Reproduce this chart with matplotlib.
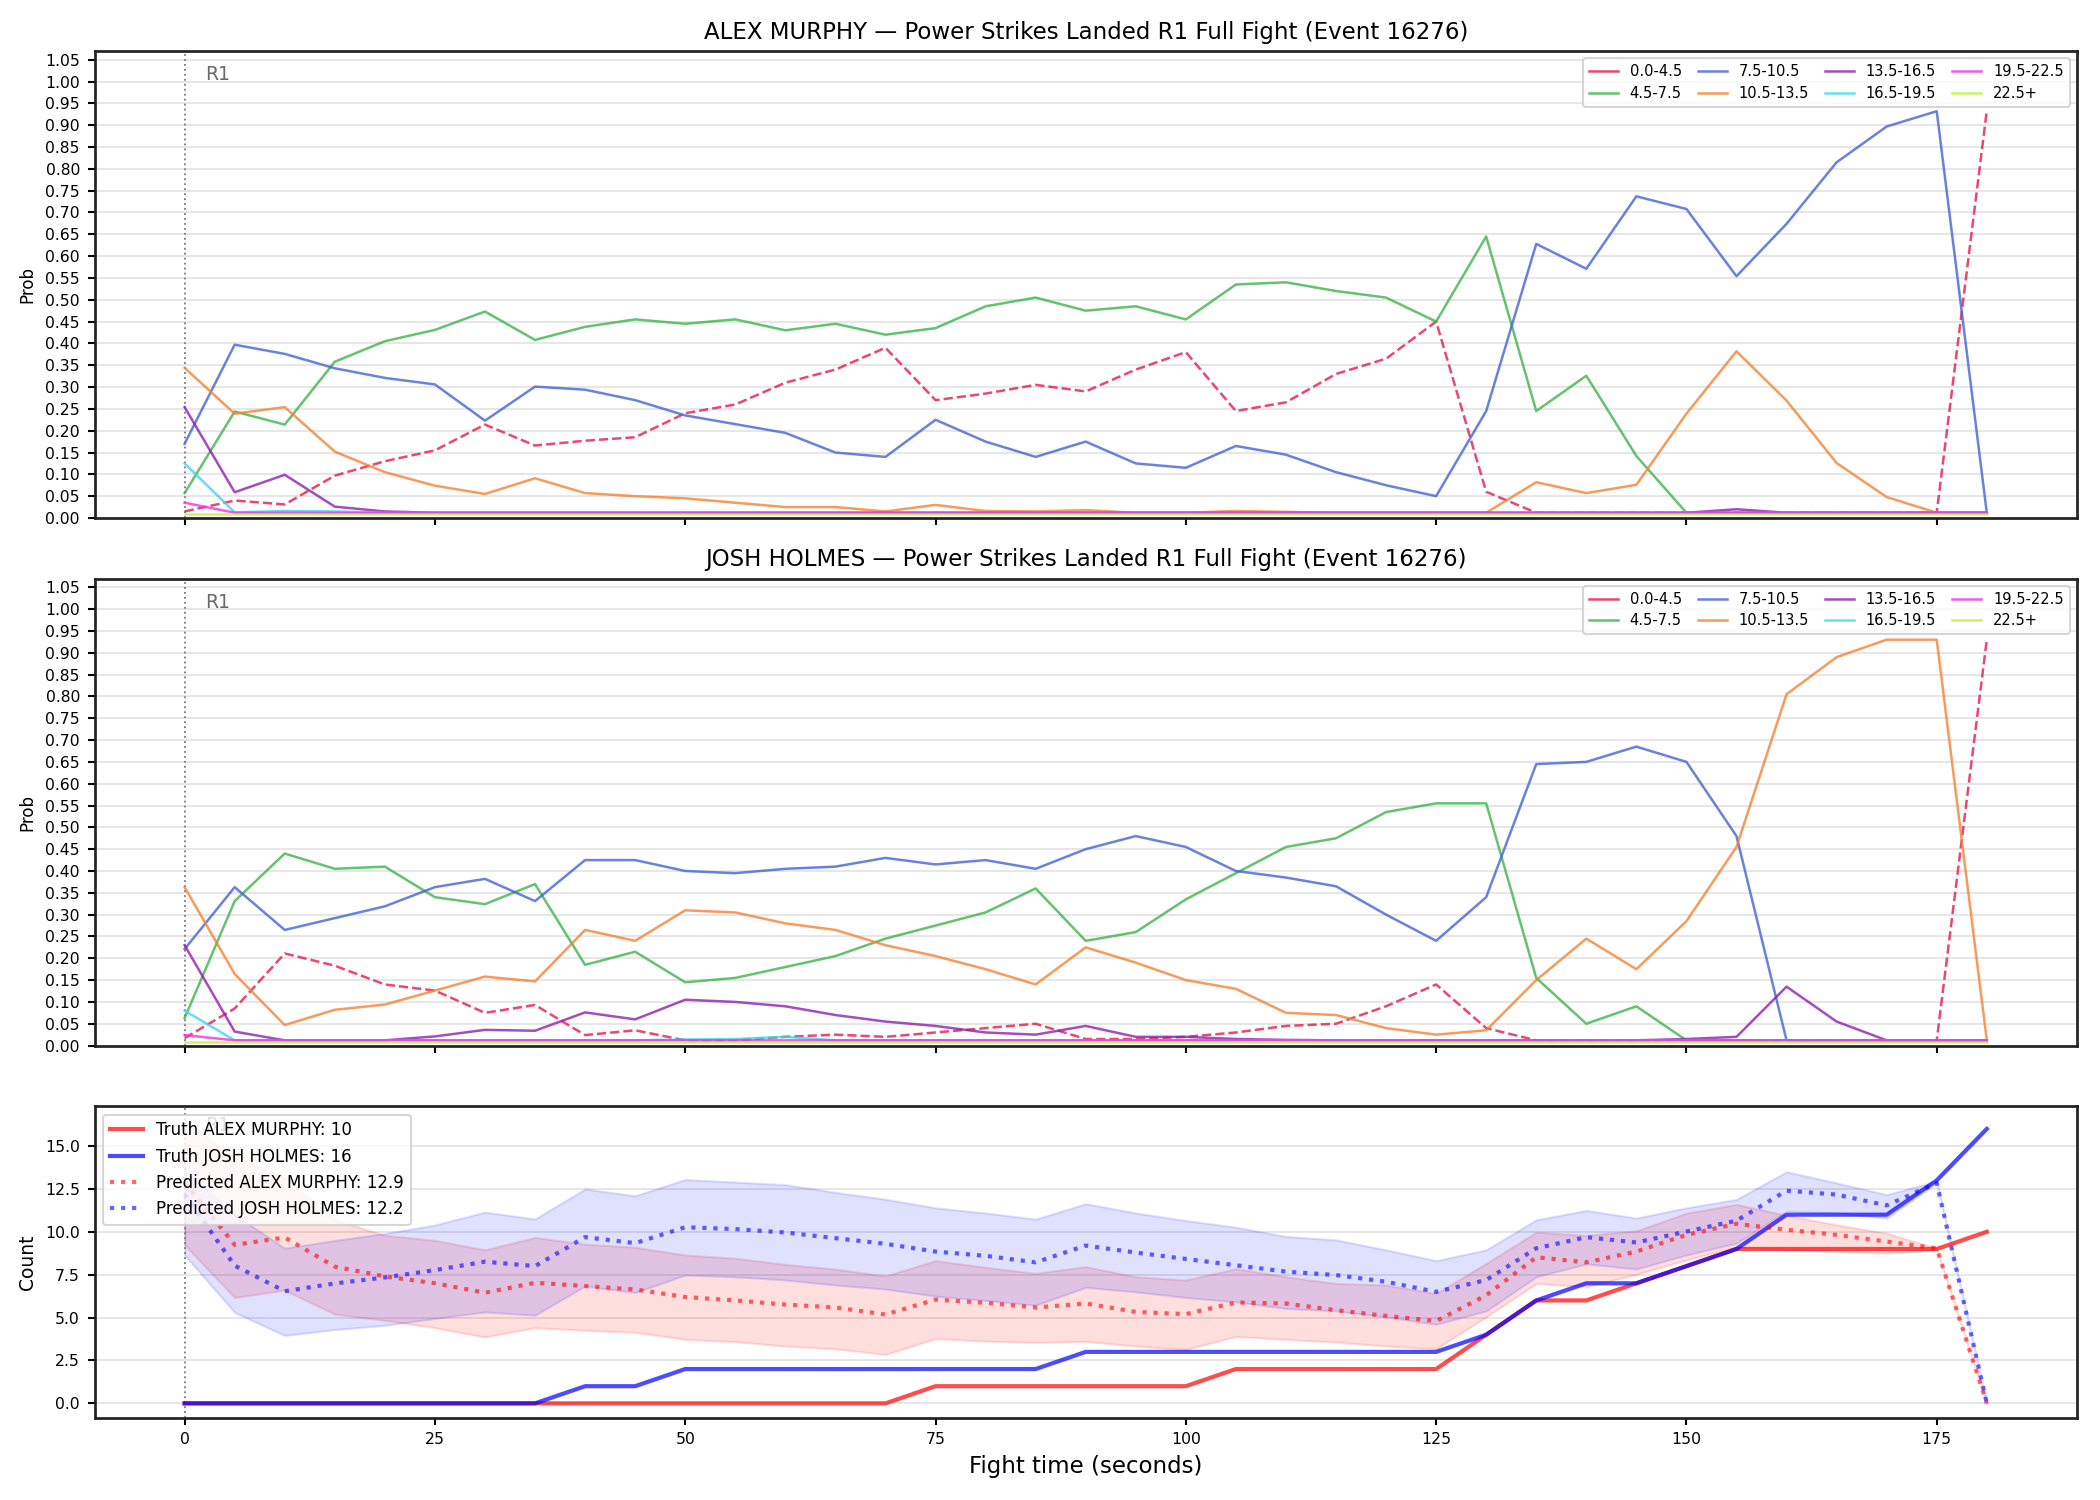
import numpy as np
import matplotlib
matplotlib.use("Agg")
import matplotlib.pyplot as plt
from matplotlib.lines import Line2D

# fight time, seconds
t = np.arange(0, 181, 5)

bins = ["0.0-4.5", "4.5-7.5", "7.5-10.5", "10.5-13.5",
        "13.5-16.5", "16.5-19.5", "19.5-22.5", "22.5+"]
bin_colors = ["#e6194b", "#3cb44b", "#4363d8", "#f58231",
              "#911eb4", "#42d4f4", "#f032e6", "#bfef45"]

f = 0.012  # floor prob

# ALEX MURPHY bin probabilities
murphy_probs = [
    [0.015, 0.04, 0.031, 0.097, 0.13, 0.155, 0.214, 0.166, 0.177, 0.185, 0.24, 0.26, 0.31,
     0.34, 0.39, 0.27, 0.285, 0.305, 0.29, 0.34, 0.38, 0.245, 0.265, 0.33, 0.365, 0.45,
     0.06, f, f, f, f, f, f, f, f, f, 0.933],
    [0.057, 0.244, 0.214, 0.358, 0.405, 0.431, 0.473, 0.408, 0.438, 0.455, 0.445, 0.455,
     0.43, 0.445, 0.42, 0.435, 0.485, 0.505, 0.475, 0.485, 0.455, 0.535, 0.54, 0.52, 0.505,
     0.45, 0.645, 0.245, 0.326, 0.142, f, f, f, f, f, f, f],
    [0.17, 0.397, 0.376, 0.343, 0.321, 0.306, 0.223, 0.301, 0.294, 0.27, 0.235, 0.215,
     0.195, 0.15, 0.14, 0.225, 0.175, 0.14, 0.175, 0.125, 0.115, 0.165, 0.145, 0.105,
     0.075, 0.05, 0.245, 0.628, 0.571, 0.737, 0.708, 0.554, 0.674, 0.815, 0.897, 0.932, f],
    [0.344, 0.239, 0.254, 0.152, 0.105, 0.074, 0.055, 0.091, 0.057, 0.05, 0.045, 0.035,
     0.025, 0.025, 0.015, 0.03, 0.016, 0.015, 0.018, f, f, 0.016, 0.014, f, f, f, f,
     0.082, 0.057, 0.076, 0.239, 0.382, 0.269, 0.126, 0.048, f, f],
    [0.254, 0.059, 0.099, 0.026, 0.015, f, f, f, f, f, f, f, f, f, f, f, f, f, f, f, f,
     f, f, f, f, f, f, f, f, f, f, 0.02, f, f, f, f, f],
    [0.125, 0.013, 0.016, 0.015, f, f, f, f, f, f, f, f, f, f, f, f, f, f, f, f, f, f,
     f, f, f, f, f, f, f, f, f, f, f, f, f, f, f],
    [0.035, f, f, f, f, f, f, f, f, f, f, f, f, f, f, f, f, f, f, f, f, f, f, f, f, f,
     f, f, f, f, f, f, f, f, f, f, f],
    [0.009] * 37,
]

# JOSH HOLMES bin probabilities
holmes_probs = [
    [0.017, 0.085, 0.211, 0.183, 0.14, 0.126, 0.075, 0.093, 0.024, 0.035, f, f, 0.02,
     0.025, 0.02, 0.03, 0.04, 0.05, 0.015, 0.015, 0.02, 0.03, 0.045, 0.05, 0.09, 0.14,
     0.04, f, f, f, f, f, f, f, f, f, 0.93],
    [0.063, 0.331, 0.44, 0.405, 0.41, 0.34, 0.324, 0.37, 0.185, 0.215, 0.145, 0.155,
     0.18, 0.205, 0.245, 0.275, 0.305, 0.36, 0.24, 0.26, 0.335, 0.395, 0.455, 0.475,
     0.535, 0.555, 0.555, 0.155, 0.05, 0.09, f, f, f, f, f, f, f],
    [0.221, 0.363, 0.265, 0.292, 0.319, 0.363, 0.382, 0.331, 0.425, 0.425, 0.40, 0.395,
     0.405, 0.41, 0.43, 0.415, 0.425, 0.405, 0.45, 0.48, 0.455, 0.40, 0.385, 0.365, 0.30,
     0.24, 0.34, 0.645, 0.65, 0.685, 0.65, 0.48, f, f, f, f, f],
    [0.363, 0.164, 0.047, 0.082, 0.094, 0.126, 0.158, 0.147, 0.265, 0.24, 0.31, 0.305,
     0.28, 0.265, 0.23, 0.205, 0.175, 0.14, 0.225, 0.19, 0.15, 0.13, 0.075, 0.07, 0.04,
     0.025, 0.035, 0.15, 0.245, 0.175, 0.285, 0.455, 0.805, 0.89, 0.93, 0.93, f],
    [0.23, 0.032, f, f, f, 0.021, 0.036, 0.034, 0.076, 0.06, 0.105, 0.1, 0.09, 0.07,
     0.055, 0.045, 0.03, 0.025, 0.045, 0.02, 0.02, 0.015, 0.013, f, f, f, f, f, f, f,
     0.015, 0.02, 0.135, 0.055, f, f, f],
    [0.08, f, f, f, f, f, f, f, f, f, 0.014, 0.015, 0.02, f, f, f, f, f, f, f, f, f, f,
     f, f, f, f, f, f, f, f, f, f, f, f, f, f],
    [0.024, f, f, f, f, f, f, f, f, f, f, f, f, f, f, f, f, f, f, f, f, f, f, f, f, f,
     f, f, f, f, f, f, f, f, f, f, f],
    [0.009] * 37,
]

# cumulative counts
truth_murphy = [0, 0, 0, 0, 0, 0, 0, 0, 0, 0, 0, 0, 0, 0, 0, 1, 1, 1, 1, 1, 1, 2, 2, 2, 2,
                2, 4, 6, 6, 7, 8, 9, 9, 9, 9, 9, 10]
truth_holmes = [0, 0, 0, 0, 0, 0, 0, 0, 1, 1, 2, 2, 2, 2, 2, 2, 2, 2, 3, 3, 3, 3, 3, 3, 3,
                3, 4, 6, 7, 7, 8, 9, 11, 11, 11, 13, 16]

pred_murphy = [12.9, 9.24, 9.67, 7.97, 7.4, 7.0, 6.45, 7.03, 6.84, 6.64, 6.2, 6.0, 5.76,
               5.59, 5.18, 6.05, 5.86, 5.59, 5.82, 5.33, 5.2, 5.88, 5.82, 5.43, 5.1, 4.8,
               6.3, 8.52, 8.22, 8.85, 9.82, 10.47, 10.12, 9.82, 9.43, 9.04, 0]
murphy_lo = [9.24, 6.17, 6.6, 5.2, 4.84, 4.41, 3.87, 4.41, 4.26, 4.14, 3.73, 3.6, 3.34,
             3.18, 2.85, 3.77, 3.63, 3.55, 3.61, 3.34, 3.14, 3.9, 3.73, 3.57, 3.34, 3.18,
             5.04, 6.99, 6.8, 7.52, 8.36, 9.12, 8.95, 8.85, 8.75, 8.95, 0]
murphy_hi = [16.5, 14.3, 13.2, 10.7, 9.8, 9.5, 8.95, 9.67, 9.28, 9.1, 8.65, 8.46, 8.1,
             7.83, 7.42, 8.32, 7.93, 7.58, 7.97, 7.38, 7.19, 7.85, 7.38, 6.99, 6.9, 6.4,
             8.16, 9.98, 9.79, 10.06, 11.09, 11.6, 10.96, 10.41, 9.92, 9.04, 0]

pred_holmes = [12.2, 8.03, 6.54, 6.99, 7.34, 7.77, 8.26, 8.0, 9.69, 9.34, 10.27, 10.16,
               9.96, 9.63, 9.3, 8.85, 8.6, 8.22, 9.2, 8.79, 8.42, 8.05, 7.68, 7.48, 7.09,
               6.5, 7.19, 9.04, 9.69, 9.38, 10.02, 10.65, 12.4, 12.17, 11.54, 12.85, 0]
holmes_lo = [8.65, 5.3, 3.96, 4.3, 4.55, 4.95, 5.33, 5.14, 6.84, 6.46, 7.48, 7.38, 7.19,
             6.9, 6.66, 6.25, 6.0, 5.72, 6.76, 6.5, 6.17, 5.92, 5.53, 5.39, 5.04, 4.61,
             5.39, 7.38, 8.13, 7.83, 8.65, 9.34, 11.19, 11.1, 10.8, 12.85, 0]
holmes_hi = [13.6, 11.0, 9.05, 9.5, 9.9, 10.4, 11.15, 10.75, 12.5, 12.1, 13.05, 12.9,
             12.75, 12.3, 11.9, 11.4, 11.1, 10.74, 11.64, 11.1, 10.66, 10.27, 9.73, 9.53,
             8.95, 8.32, 8.95, 10.7, 11.25, 10.8, 11.4, 11.89, 13.5, 12.85, 12.17, 12.95, 0]

fighters = ["ALEX MURPHY", "JOSH HOLMES"]
event = "Event 16276"

fig = plt.figure(figsize=(14, 10), dpi=150)
gs = fig.add_gridspec(3, 1, height_ratios=[3, 3, 2], left=0.045, right=0.989,
                      top=0.966, bottom=0.055, hspace=0.146)
ax1 = fig.add_subplot(gs[0])
ax2 = fig.add_subplot(gs[1], sharex=ax1)
ax3 = fig.add_subplot(gs[2], sharex=ax1)


def style_axis(ax):
    ax.grid(axis="y", color="#e3e3e3", linewidth=0.8)
    ax.set_axisbelow(True)
    for sp in ax.spines.values():
        sp.set_linewidth(1.3)
        sp.set_color("#222222")
    ax.tick_params(labelsize=7.5, width=1.0)
    ax.axvline(0, color="gray", linestyle=":", linewidth=0.9)
    ax.text(2, 0.97, "R1", transform=ax.get_xaxis_transform(), va="top", ha="left",
            fontsize=9, color="dimgray")


for ax, name, probs in [(ax1, fighters[0], murphy_probs), (ax2, fighters[1], holmes_probs)]:
    style_axis(ax)
    for i, (lab, col) in enumerate(zip(bins, bin_colors)):
        ls = "--" if i == 0 else "-"
        ax.plot(t, probs[i], color=col, alpha=0.8, linewidth=1.2, linestyle=ls)
    handles = [Line2D([], [], color=c, alpha=0.8, linewidth=1.2) for c in bin_colors]
    ax.legend(handles, bins, loc="upper right", ncol=4, fontsize=7, frameon=True,
              handlelength=2.0, columnspacing=1.1, labelspacing=0.45)
    ax.set_ylim(0, 1.07)
    ax.set_yticks(np.arange(0, 1.051, 0.05))
    ax.set_ylabel("Prob", fontsize=8)
    ax.set_title(f"{name} \u2014 Power Strikes Landed R1 Full Fight ({event})", fontsize=11)
    plt.setp(ax.get_xticklabels(), visible=False)

style_axis(ax3)
ax3.fill_between(t, murphy_lo, murphy_hi, color="red", alpha=0.13)
ax3.fill_between(t, holmes_lo, holmes_hi, color="blue", alpha=0.12)
ax3.plot(t, truth_murphy, color="red", alpha=0.7, linewidth=2,
         label=f"Truth {fighters[0]}: {truth_murphy[-1]}")
ax3.plot(t, truth_holmes, color="blue", alpha=0.7, linewidth=2,
         label=f"Truth {fighters[1]}: {truth_holmes[-1]}")
ax3.plot(t, pred_murphy, color="red", alpha=0.6, linewidth=2, linestyle=":",
         label=f"Predicted {fighters[0]}: {pred_murphy[0]}")
ax3.plot(t, pred_holmes, color="blue", alpha=0.6, linewidth=2, linestyle=":",
         label=f"Predicted {fighters[1]}: {pred_holmes[0]}")
ax3.legend(loc="upper left", fontsize=8)
ax3.set_ylabel("Count", fontsize=9)
ax3.set_xlabel("Fight time (seconds)", fontsize=11)
ax3.set_xticks(np.arange(0, 176, 25))

fig.savefig("out.png", dpi=150)
